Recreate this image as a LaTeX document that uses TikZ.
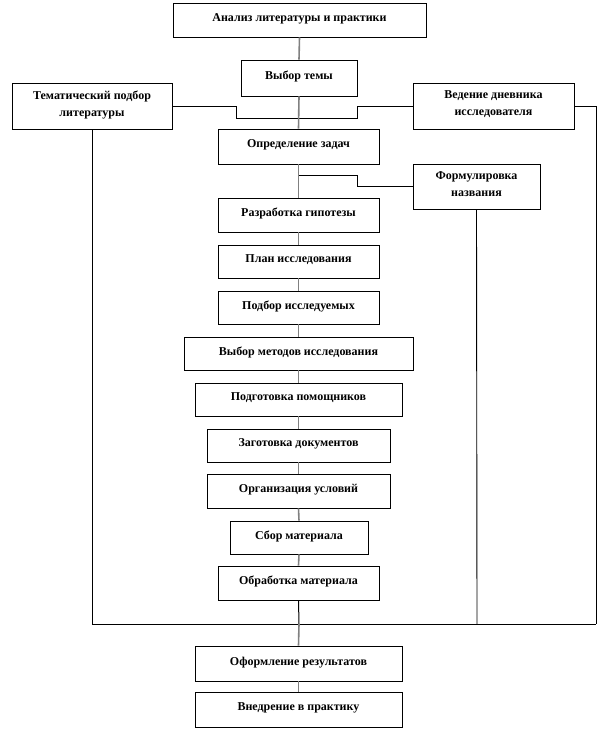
\documentclass[tikz,border=0pt]{standalone}
\usepackage{fontspec}
\setmainfont{Liberation Serif}
\begin{document}
\begin{tikzpicture}[x=1pt,y=-1pt,
  boxst/.style={draw=black, line width=0.9pt, rectangle, inner sep=0pt, align=center,
    font=\bfseries\fontsize{12}{17}\selectfont, text depth=5pt},
  conn/.style={draw=black, line width=0.9pt},
  cline/.style={draw=black!50, line width=1.6pt},
  blk/.style={draw=black, line width=1pt}]
\useasboundingbox (0,0) rectangle (599,750);
\newcommand\mybox[6]{\node[boxst, minimum width={(#3-#2)*1pt}, minimum height={(#5-#4)*1pt}] (#1) at ({(#2+#3)/2},{(#4+#5)/2}) {#6};}
\mybox{A1}{173}{426}{3}{37}{Анализ литературы и практики}
\mybox{A2}{241}{357}{60}{96}{Выбор темы}
\mybox{T}{12}{172}{83}{129}{Тематический подбор\\литературы}
\mybox{V}{413}{574}{83}{129}{Ведение дневника\\исследователя}
\mybox{A3}{218}{379}{129}{164}{Определение задач}
\mybox{F}{413}{540}{164}{209}{Формулировка\\названия}
\mybox{A4}{218}{379}{198}{232}{Разработка гипотезы}
\mybox{A5}{218}{379}{245}{278}{План исследования}
\mybox{A6}{218}{379}{291}{324}{Подбор исследуемых}
\mybox{A7}{184}{413}{337}{370}{Выбор методов исследования}
\mybox{A8}{195}{402}{383}{416}{Подготовка помощников}
\mybox{A9}{207}{390}{429}{462}{Заготовка документов}
\mybox{A10}{207}{390}{474}{508}{Организация условий}
\mybox{A11}{230}{368}{521}{554}{Сбор материала}
\mybox{A12}{218}{379}{566}{600}{Обработка материала}
\mybox{A13}{195}{402}{646}{681}{Оформление результатов}
\mybox{A14}{195}{402}{692}{727}{Внедрение в практику}
\coordinate (J1) at (299,118);
\coordinate (J2) at (299,175);
\coordinate (B) at (299,624);
\coordinate (LB) at (92,624);
\coordinate (RB) at (596,624);
\coordinate (FB) at (477,624);
% side connectors
\draw[conn] (T.east) -| (236,118) -- (J1);
\draw[conn] (V.west) -| (357,118) -- (J1);
\draw[conn] (J2) -- (357,175) |- (F.west);
\draw[conn] (T.south) -- (LB) -- (RB);
\draw[conn] (V.east) -| (RB);
\draw[conn] (F.south) -- (FB);
% central line
\draw[cline] (A1.south) -- (A2.north);
\draw[cline] (A2.south) -- (A3.north);
\draw[cline] (A3.south) -- (A4.north);
\draw[cline] (A4.south) -- (A5.north);
\draw[cline] (A5.south) -- (A6.north);
\draw[cline] (A6.south) -- (A7.north);
\draw[cline] (A7.south) -- (A8.north);
\draw[cline] (A8.south) -- (A9.north);
\draw[cline] (A9.south) -- (A10.north);
\draw[cline] (A10.south) -- (A11.north);
\draw[cline] (A11.south) -- (A12.north);
\draw[blk] (A12.south) -- (B);
\draw[cline] (B) -- (A13.north);
\draw[cline] (A13.south) -- (A14.north);
\end{tikzpicture}
\end{document}
